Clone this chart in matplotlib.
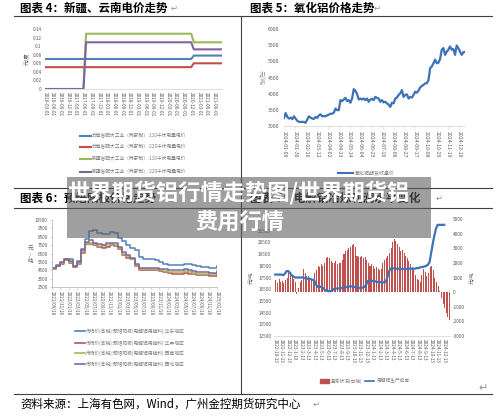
import numpy as np
import pandas as pd
import matplotlib
matplotlib.use("Agg")
import matplotlib.pyplot as plt
from matplotlib.patches import Rectangle
from matplotlib.lines import Line2D

plt.rcParams['font.family'] = ['Noto Sans CJK SC', 'DejaVu Sans']
plt.rcParams['axes.unicode_minus'] = False

W, H = 500, 416
GRAY = '#595959'
LGRAY = '#7f7f7f'

# ---------- chart 4: Xinjiang / Yunnan power price ----------
c4_ticks = pd.date_range('2016-03-01', periods=23, freq='3MS').strftime('%Y-%m-%d')
c4_names = ["云南省配大工业（两部制）:110千伏电量电价", "云南省配大工业（两部制）:220千伏电量电价",
            "新疆省配大工业（两部制）:110千伏电量电价", "新疆省配大工业（两部制）:220千伏电量电价"]
yn_x = [0, 57, 58, 69]
yn110 = [0.070, 0.070, 0.078, 0.078]
yn220 = [0.051, 0.051, 0.060, 0.060]
xj_x = [0, 15, 16, 57, 58, 69]
xj110 = [0, 0, 0.129, 0.129, 0.109, 0.109]
xj220 = [0, 0, 0.109, 0.109, 0.0925, 0.0925]

# ---------- chart 5: alumina futures ----------
c5_ticks = pd.date_range('2024-01-09', periods=17, freq='21D')
c5_vals = [3250, 3400, 3280, 3230, 3260, 3210, 3300, 3230, 3160, 3130,
           3125, 3130, 3125, 3100, 3200, 3300, 3260, 3230, 3220, 3280,
           3250, 3330, 3360, 3300, 3310, 3300, 3330, 3350, 3380, 3380,
           3410, 3540, 3490, 3490, 3800, 3770, 3820, 3870, 3770, 3800,
           3720, 3850, 4140, 4090, 3990, 3820, 3850, 3820, 3850, 3800,
           3850, 3750, 3820, 3840, 3800, 3900, 3870, 3850, 3750, 3800,
           3730, 3750, 3700, 3660, 3590, 3720, 3700, 3850, 3880, 3960,
           4010, 4110, 3900, 3960, 3980, 3850, 3900, 3880, 3960, 4060,
           4030, 4090, 4190, 4240, 4270, 4320, 4320, 4420, 4790, 4840,
           4940, 5050, 4940, 4960, 5070, 5360, 5410, 5200, 5300, 5360,
           5460, 5360, 5380, 5200, 5490, 5410, 5300, 5200, 5280, 5290]
c5_dates = pd.date_range('2024-01-09', '2024-12-21', periods=len(c5_vals))

# ---------- chart 6: prebaked anode price ----------
c6_ticks = pd.date_range('2021-08-18', periods=21, freq='2MS').strftime('%Y/%m') + '/18'
c6_names = ["市场价(含税):预焙阳极(电解铝用辅料):华东地区", "市场价(含税):预焙阳极(电解铝用辅料):华中地区",
            "市场价(含税):预焙阳极(电解铝用辅料):西南地区", "市场价(含税):预焙阳极(电解铝用辅料):西北地区"]
east = [4800, 5100, 5400, 5900, 5800, 4950, 5600, 7050, 8200, 9150,
        9250, 9000, 8850, 8850, 9100, 9000, 8300, 8000, 7500, 7200,
        6900, 6050, 5800, 5800, 5800, 5700, 5450, 5300, 5150, 5100,
        5100, 5100, 5250, 5200, 5100, 5000, 4900, 4850, 4800, 4800, 5000]
central = [4650, 4950, 5300, 5700, 5400, 4900, 5300, 6600, 7600, 7650,
           7500, 7300, 7200, 7300, 7500, 7400, 7000, 6300, 6000, 5800,
           4950, 4550, 4500, 4500, 4500, 4500, 4400, 4300, 4150, 4100,
           4100, 4100, 4200, 4100, 4000, 3950, 3900, 3900, 3850, 3850, 4000]
southwest = [4700, 5000, 5350, 5800, 5500, 5000, 5400, 6750, 7700, 7800,
             7650, 7450, 7350, 7500, 7650, 7550, 7150, 6500, 6150, 5900,
             5150, 4650, 4650, 4650, 4650, 4650, 4550, 4450, 4300, 4300,
             4300, 4300, 4400, 4300, 4200, 4100, 4100, 4100, 4000, 4000, 4200]
northwest = [4750, 5050, 5450, 5900, 5600, 5050, 5500, 6900, 7900, 8100,
             7800, 7600, 7500, 7700, 7800, 7700, 7300, 6700, 6300, 6000,
             5300, 4800, 4800, 4800, 4800, 4800, 4700, 4600, 4500, 4500,
             4500, 4500, 4600, 4500, 4400, 4300, 4300, 4300, 4200, 4200, 4400]

# ---------- chart 7: aluminium smelting profit / cost ----------
c7_ticks = [f"{2022 + (9 + i) // 12}-{(9 + i) % 12 + 1}-13" for i in range(27)]
profit = [800, 600, 900, 700,   750, 650, 800, 1000,   1300, 1400, 1100, 900,
          700, -150, 300, 700,   800, 1600, 1300, 1100,   1100, 1000, 900, 800,
          1300, 1500, 1800, 1700,   1900, 1800, 2000, 2300,   2400, 2300, 2100, 2000,
          2000, 2100, 1900, 2000,   2000, 2200, 2600, 2800,   2900, 3000, 3100, 3200,
          3300, 3100, 2500, 2400,   2400, 2500, 2300, 2400,   2200, 2000, 1800, 1900,
          1800, 1600, 1700, 1600,   1500, 1600, 2000, 2200,   2300, 2500, 2700, 3000,
          3400, 3600, 3500, 3300,   3100, 2800, 2900, 2700,   2500, 2300, 2100, 1900,
          1700, 1500, 1200, 900,   800, 700, 1200, 1600,   1400, 1100, 1300, 1700,
          1800, 1500, 1000, 700,   400, 100, -400, -800,   -1100, -1400, -1700, -1900]
cost = [17750, 17750, 17750, 17750,   17750, 17700, 17850, 18050,   18050, 17900, 17700, 17600,
        17500, 17500, 17500, 17500,   17500, 17500, 17450, 17400,   17400, 17400, 17350, 17300,
        17250, 16900, 16700, 16700,   16700, 16650, 16500, 16400,   16350, 16330, 16330, 16400,
        16500, 16550, 16560, 16560,   16600, 16600, 16650, 16650,   16700, 16700, 16750, 16750,
        16700, 16700, 16650, 16650,   16600, 16600, 16650, 16700,   16900, 17200, 17250, 17250,
        17200, 17200, 17150, 17100,   17100, 17100, 17050, 17100,   17100, 17500, 18000, 18250,
        18300, 18280, 18250, 18250,   18250, 18240, 18240, 18240,   18240, 18240, 18250, 18250,
        18250, 18250, 18250, 18300,   18300, 18350, 18400, 18400,   18450, 18500, 18600, 18800,
        19600, 20400, 21100, 21700,   22000, 22000, 22000, 22000,   22000]


def box(x0, y0, x1, y1):
    return [x0 / W, 1 - y1 / H, (x1 - x0) / W, (y1 - y0) / H]


def ftext(x, y, s, **kw):
    kw.setdefault('va', 'center')
    fig.text(x / W, 1 - y / H, s, **kw)


def fline(xs, ys, **kw):
    fig.add_artist(Line2D([x / W for x in xs], [1 - y / H for y in ys], **kw))


def clean(ax, keep=('bottom',), color='#d9d9d9'):
    for s in ax.spines:
        ax.spines[s].set_visible(s in keep)
        ax.spines[s].set_color(color)
        ax.spines[s].set_linewidth(0.6)
    ax.set_facecolor('none')


fig = plt.figure(figsize=(5, 4.16), dpi=100)

# frame lines and titles
fline([14, 492], [16, 16], color='#404040', lw=0.8)
fline([14, 492], [188, 188], color='#404040', lw=0.8)
fline([14, 492], [208, 208], color='#404040', lw=0.8)
fline([14, 492], [394, 394], color='#404040', lw=0.8)
fline([241, 241], [16, 394], color='#404040', lw=0.8)

ftext(20, 8, "图表 4：新疆、云南电价走势", fontsize=8.3, fontweight='bold')
ftext(171, 8, "↵", fontsize=6, color='#909090')
ftext(250, 8, "图表 5：氧化铝价格走势", fontsize=8.3, fontweight='bold')
ftext(374, 8, "↵", fontsize=6, color='#909090')
ftext(20, 198, "图表 6：预焙阳极价格走势", fontsize=8.3, fontweight='bold')
ftext(250, 198, "图表 7：电解铝冶炼利润水平变化", fontsize=8.3, fontweight='bold')
ftext(436, 198, "↵", fontsize=6, color='#909090')
ftext(20, 404, "资料来源：上海有色网，Wind，广州金控期货研究中心", fontsize=8.3)
ftext(313, 404, "↵", fontsize=6, color='#909090')
ftext(478, 388, "↵", fontsize=8, color='#909090')

# ---------- chart 4 ----------
ax4 = fig.add_axes(box(45, 29, 222, 89))
clean(ax4)
ax4.plot(yn_x, yn110, color='#4f81bd', lw=1.5)
ax4.plot(yn_x, yn220, color='#c0504d', lw=1.5)
ax4.plot(xj_x, xj110, color='#9bbb59', lw=1.5)
ax4.plot(xj_x, xj220, color='#8064a2', lw=1.5)
ax4.set_xlim(0, 69)
ax4.set_ylim(0, 0.14)
ax4.set_yticks(np.arange(0, 0.141, 0.02))
ax4.set_yticklabels([f"{v:g}" for v in np.round(np.arange(0, 0.141, 0.02), 2)])
ax4.set_xticks(np.arange(0, 67, 3))
ax4.set_xticklabels(c4_ticks, rotation=270)
ax4.tick_params(length=0, labelsize=3.4, labelcolor=GRAY, pad=2.5)
ax4.set_ylabel("元/度", fontsize=3.8, color=GRAY, labelpad=2)
for i, (nm, col) in enumerate(zip(c4_names, ['#4f81bd', '#c0504d', '#9bbb59', '#8064a2'])):
    y = [136, 147, 159, 172][i]
    fline([80, 91], [y, y], color=col, lw=1.5)
    ftext(92, y, nm, fontsize=3.4, color=LGRAY)

# ---------- chart 5 ----------
ax5 = fig.add_axes(box(284, 29, 465, 126))
clean(ax5)
ax5.plot(c5_dates, c5_vals, color='#3d72b8', lw=1.6)
ax5.set_xlim(pd.Timestamp('2024-01-09'), pd.Timestamp('2024-12-21'))
ax5.set_ylim(3000, 6000)
ax5.set_yticks(range(3000, 6001, 500))
ax5.set_xticks(c5_ticks)
ax5.set_xticklabels(c5_ticks.strftime('%Y-%m-%d'), rotation=270)
ax5.tick_params(axis='x', length=2, width=0.5, color='#d9d9d9', labelsize=3.7,
                labelcolor=GRAY, pad=1.5)
ax5.tick_params(axis='y', length=0, labelsize=3.7, labelcolor=GRAY, pad=3.5)
ax5.set_ylabel("元/吨", fontsize=4.5, color='#8c8c8c', labelpad=8, rotation=270, va='bottom')
fline([338, 353], [173, 173], color='#3d72b8', lw=1.5)
ftext(355, 173, "氧化铝期货收盘价", fontsize=3.6, color=LGRAY)

# ---------- chart 6 ----------
ax6 = fig.add_axes(box(52, 220, 217, 287))
clean(ax6, keep=('bottom', 'left'), color='#bfbfbf')
m6 = np.arange(len(east))
ax6.plot(m6, east, color='#4f81bd', lw=1.1, drawstyle='steps-post')
ax6.plot(m6, central, color='#c0504d', lw=1.1, drawstyle='steps-post')
ax6.plot(m6, southwest, color='#9bbb59', lw=1.1, drawstyle='steps-post')
ax6.plot(m6, northwest, color='#8064a2', lw=1.1, drawstyle='steps-post')
ax6.set_xlim(0, 40)
ax6.set_ylim(2500, 10500)
ax6.set_yticks(range(2500, 10501, 1000))
ax6.set_xticks(np.arange(0, 41, 2))
ax6.set_xticklabels(c6_ticks, rotation=270)
ax6.tick_params(length=1.5, width=0.5, color='#bfbfbf', labelsize=3.3, labelcolor=GRAY, pad=1.5)
ftext(30, 255, "元\n/\n吨", fontsize=4, color=GRAY, ha='center', linespacing=1.4)
for i, (nm, col) in enumerate(zip(c6_names, ['#4f81bd', '#c0504d', '#9bbb59', '#8064a2'])):
    y = [331, 343, 353, 364][i]
    fline([75, 85], [y, y], color=col, lw=1.2)
    ftext(86, y, nm, fontsize=3.4, color=LGRAY)

# ---------- chart 7 ----------
ax7b = fig.add_axes(box(274, 219, 450, 336))
clean(ax7b, color='#d9d9d9')
xb = np.arange(len(profit)) / 4
ax7b.bar(xb, profit, width=0.16, color='#c0504d', align='edge')
ax7b.set_xlim(-0.2, 26.9)
ax7b.set_ylim(-3000, 5000)
ax7b.yaxis.tick_right()
ax7b.set_yticks(range(-3000, 5001, 1000))
ax7b.set_xticks(range(27))
ax7b.set_xticklabels(c7_ticks, rotation=270)
ax7b.tick_params(length=0, labelsize=3.4, labelcolor=GRAY, pad=2)
ax7b.yaxis.set_label_position('right')
ax7b.set_ylabel("元/吨", fontsize=3.8, color=GRAY, labelpad=3)

ax7 = fig.add_axes(box(274, 219, 450, 336))
clean(ax7, keep=())
ax7.plot(np.arange(len(cost)) / 4, cost, color='#3d72b8', lw=1.6)
ax7.set_xlim(-0.2, 26.9)
ax7.set_ylim(12500, 22500)
ax7.set_yticks(range(12500, 21501, 1000))
ax7.set_xticks([])
ax7.tick_params(length=0, labelsize=3.4, labelcolor=GRAY, pad=2)
ax7.set_ylabel("元/吨", fontsize=3.8, color=GRAY, labelpad=3)
fig.add_artist(Rectangle((320 / W, 1 - 383 / H), 9 / W, 4 / H, color='#c0504d'))
ftext(331, 381, "盈亏状况(右轴)", fontsize=3.4, color=LGRAY)
fline([365, 374], [381, 381], color='#3d72b8', lw=1.2)
ftext(376, 381, "电解铝生产成本", fontsize=3.4, color=LGRAY)

# ---------- overlay banner ----------
fig.add_artist(Rectangle((67 / W, 1 - 238 / H), 364 / W, 61 / H,
                         facecolor='#5f5f5f', alpha=0.6, edgecolor='none', zorder=5))
fig.text(238 / W, 1 - 193 / H, "世界期货铝行情走势图/世界期货铝", fontsize=16, color='white',
         fontweight='bold', ha='center', va='center', zorder=6)
fig.text(240 / W, 1 - 223 / H, "费用行情", fontsize=16, color='white',
         fontweight='bold', ha='center', va='center', zorder=6)

fig.savefig('out.png', dpi=100)
